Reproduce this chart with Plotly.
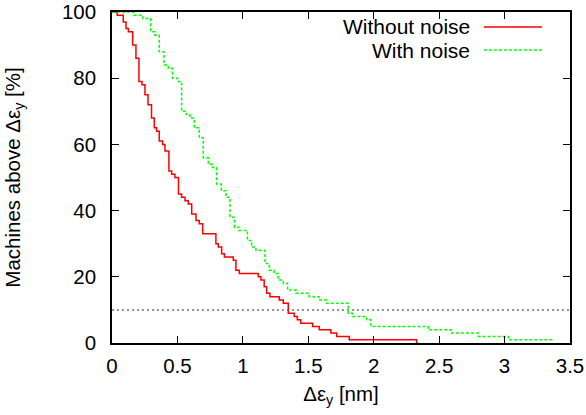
import plotly.graph_objects as go

# Step curves: at each x the curve drops to the given level (percent of machines)
red_x = [0, 0.040, 0.086, 0.107, 0.125, 0.158, 0.183, 0.206, 0.229, 0.252, 0.275,
         0.302, 0.323, 0.341, 0.361, 0.387, 0.405, 0.435, 0.456, 0.481, 0.508,
         0.532, 0.558, 0.583, 0.609, 0.642, 0.667, 0.693, 0.794, 0.812, 0.838,
         0.859, 0.927, 0.947, 0.973, 1.118, 1.138, 1.163, 1.182, 1.207, 1.278,
         1.309, 1.347, 1.393, 1.416, 1.442, 1.533, 1.584, 1.673, 1.717, 1.813, 2.328]
red_y = [100, 99, 97, 95, 94, 90, 86, 79, 78, 75, 72,
         68, 65, 64, 61, 60, 58, 52, 51, 50, 45,
         44, 43, 42, 39, 37, 36, 33, 30, 29, 27,
         26, 25, 22, 21, 20, 19, 17, 15, 14, 13,
         12, 9, 8, 7, 6, 5, 4, 3, 2, 1, 0]

green_x = [0, 0.168, 0.235, 0.296, 0.328, 0.361, 0.397, 0.430, 0.462, 0.500, 0.532,
           0.568, 0.596, 0.629, 0.667, 0.697, 0.736, 0.769, 0.800, 0.835, 0.871,
           0.901, 0.936, 0.969, 1.035, 1.067, 1.100, 1.169, 1.202, 1.238, 1.270,
           1.309, 1.342, 1.406, 1.507, 1.581, 1.640, 1.805, 1.838, 1.946, 1.979,
           2.417, 2.590, 2.800, 3.030, 3.370]
green_y = [100, 99, 98, 94, 93, 88, 84, 83, 80, 79, 70,
           69, 68, 65, 62, 56, 54, 53, 48, 46, 44,
           38, 35, 34, 31, 29, 28, 24, 22, 21, 19,
           18, 16, 15, 14, 13, 12, 9, 8, 7, 5,
           4, 3, 2, 1, 1]

series_names = ["Without noise", "With noise"]
threshold = 10
x_ticks = [0, 0.5, 1, 1.5, 2, 2.5, 3, 3.5]
x_tick_text = ["0", "0.5", "1", "1.5", "2", "2.5", "3", "3.5"]
y_ticks = [0, 20, 40, 60, 80, 100]

FONT = "Liberation Sans, Arial, sans-serif"
FS = 20.5

fig = go.Figure()
fig.add_trace(go.Scatter(x=red_x, y=red_y, mode="lines", line_shape="hv",
                         line=dict(color="#ff0000", width=1.5),
                         name=series_names[0], showlegend=False))
fig.add_trace(go.Scatter(x=green_x, y=green_y, mode="lines", line_shape="hv",
                         line=dict(color="#00ff00", width=1.5, dash="3px,2px"),
                         name=series_names[1], showlegend=False))

# threshold line
fig.add_shape(type="line", xref="paper", yref="y", x0=0, x1=1, y0=threshold, y1=threshold,
              line=dict(color="#707070", width=1.5, dash="2px,3px"), layer="below")

# gnuplot-style key: text right-aligned, sample to the right
key_rows = [(0.955, "#ff0000", "solid"), (0.885, "#00ff00", "3px,2px")]
for name, (yy, col, dsh) in zip(series_names, key_rows):
    fig.add_annotation(xref="paper", yref="paper", x=0.783, y=yy, text=name,
                       showarrow=False, xanchor="right", yanchor="middle", borderpad=0,
                       font=dict(family=FONT, size=21, color="black"))
    fig.add_shape(type="line", xref="paper", yref="paper", x0=0.812, x1=0.939,
                  y0=yy, y1=yy, line=dict(color=col, width=1.5, dash=dsh))

axis_common = dict(showline=True, linecolor="black", linewidth=1.5, mirror="ticks",
                   ticks="inside", ticklen=7, tickcolor="black", tickwidth=1.2,
                   showgrid=False, zeroline=False, automargin=False,
                   ticklabeloverflow="allow",
                   tickfont=dict(family=FONT, size=FS, color="black"))

fig.update_xaxes(range=[0, 3.5], tickvals=x_ticks, ticktext=x_tick_text,
                 title=dict(text="Δε<sub>y</sub> [nm]", font=dict(family=FONT, size=FS, color="black"),
                            standoff=10),
                 ticklabelstandoff=4, **axis_common)
fig.update_yaxes(range=[0, 100], tickvals=y_ticks,
                 title=dict(text="Machines above Δε<sub>y</sub> [%]",
                            font=dict(family=FONT, size=FS, color="black"), standoff=36),
                 ticklabelstandoff=10, **axis_common)

fig.update_layout(width=586, height=415, margin=dict(l=112, r=16, t=12, b=72),
                  paper_bgcolor="white", plot_bgcolor="white",
                  font=dict(family=FONT, size=FS, color="black"))

fig.write_html("out.html")
